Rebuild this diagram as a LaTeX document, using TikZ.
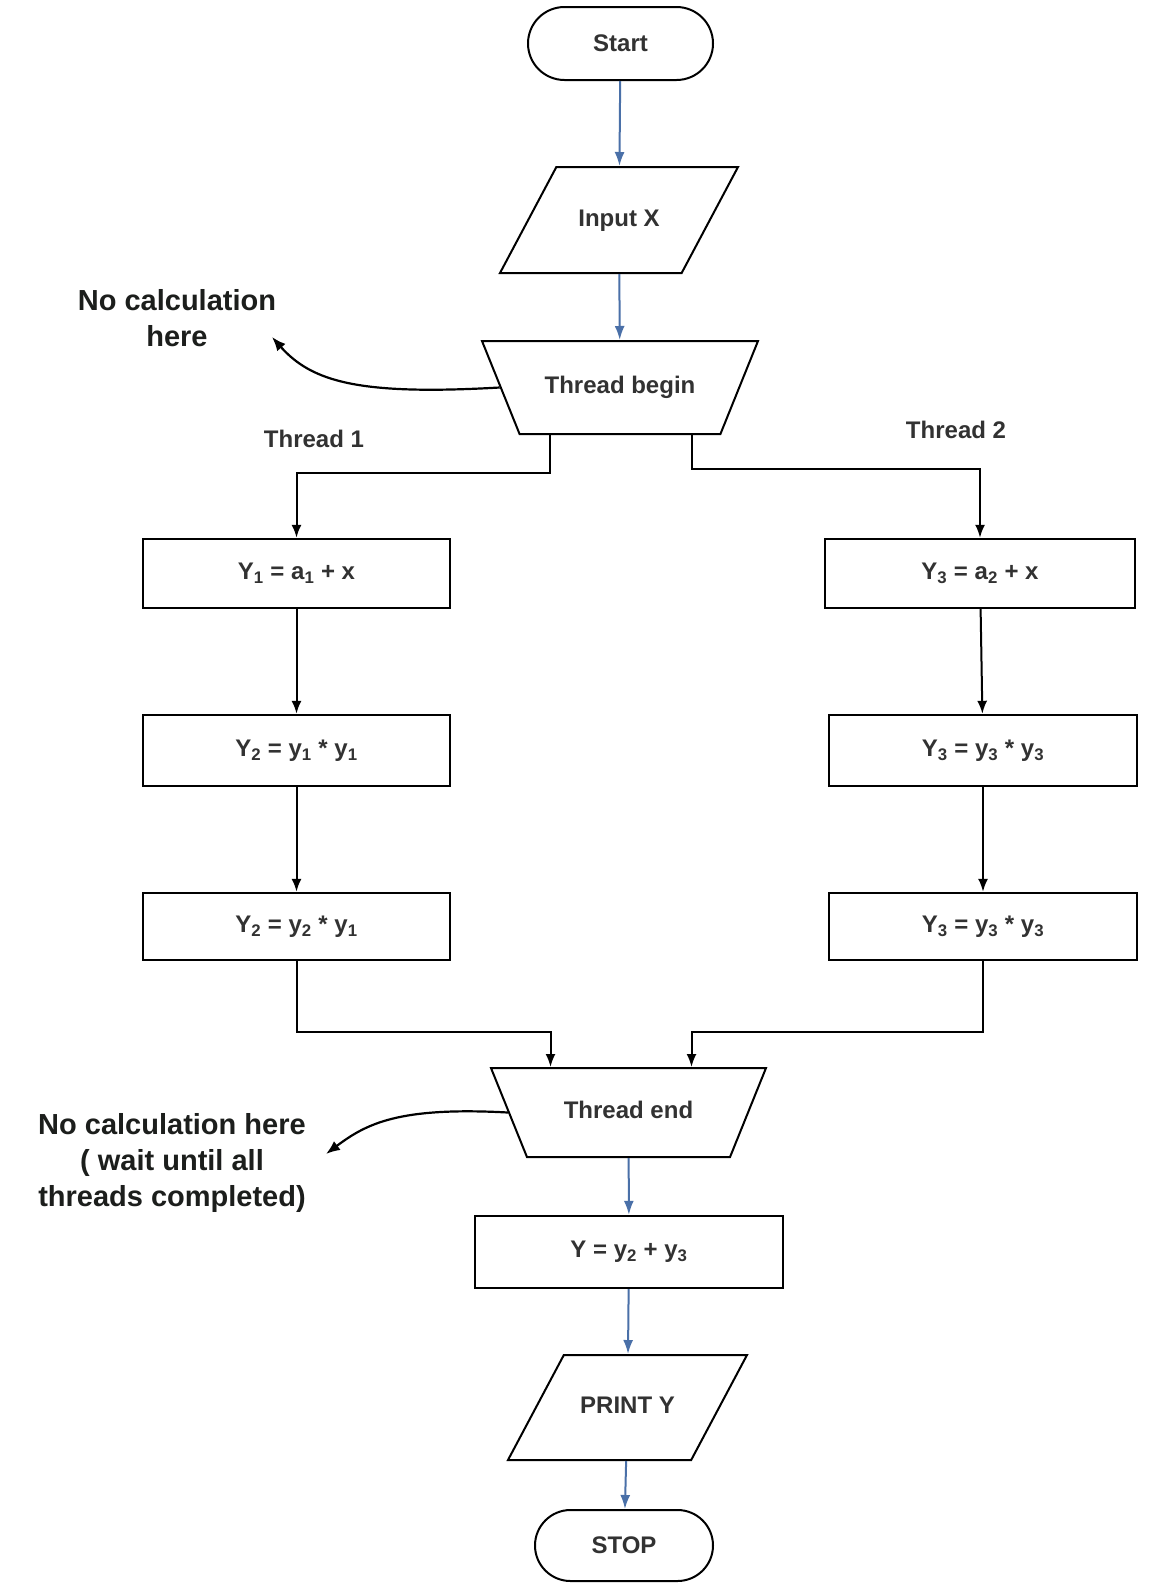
\documentclass[tikz,border=0pt]{standalone}
\usepackage{fontspec}
\setmainfont{Liberation Sans}
\usetikzlibrary{shapes.geometric,shapes.misc,arrows.meta,calc}
\definecolor{flowblue}{RGB}{74,112,168}
\definecolor{labelgray}{RGB}{50,50,50}
\definecolor{notegray}{RGB}{28,30,28}
\begin{document}
\begin{tikzpicture}[x=1pt,y=-1pt,
  every node/.style={font=\fontsize{24}{28}\selectfont\bfseries, text=labelgray, inner sep=0pt},
  terminal/.style={draw=black, line width=2pt, rounded rectangle},
  slanted/.style={draw=black, line width=2pt, trapezium, trapezium stretches body,
    text height=17pt, text depth=5pt, inner xsep=2pt, inner ysep=#1},
  iobox/.style={slanted=#1, trapezium left angle=62, trapezium right angle=118},
  threadbox/.style={slanted=#1, trapezium left angle=112, trapezium right angle=112},
  procbox/.style={draw=black, line width=2.4pt, rectangle},
  note/.style={font=\fontsize{29}{36}\selectfont\bfseries, text=notegray, align=center},
  flowarrow/.style={draw=flowblue, line width=2pt, -{Latex[length=14pt,width=10pt]}},
  thrarrow/.style={draw=black, line width=2pt, -{Latex[length=13pt,width=10pt]}},
  notearrow/.style={draw=black, line width=2.2pt, -{Latex[length=14pt,width=11pt]}}
]
\useasboundingbox (0,0) rectangle (1156,1588);
\fill[white] (0,0) rectangle (1156,1588);

% main column
\node[terminal, minimum width=185pt, minimum height=73pt] (start) at (620.5,43.5) {Start};
\node[iobox=42pt, minimum width=238pt] (input) at (619,220) {Input X};
\node[threadbox=35.5pt, minimum width=276pt] (tbegin) at (620,387.5) {Thread begin};

% thread 1
\node[procbox, minimum width=307pt, minimum height=69pt] (l1) at (296.5,573.5) {Y\textsubscript{1} = a\textsubscript{1} + x};
\node[procbox, minimum width=307pt, minimum height=71pt] (l2) at (296.5,750.5) {Y\textsubscript{2} = y\textsubscript{1} * y\textsubscript{1}};
\node[procbox, minimum width=307pt, minimum height=67pt] (l3) at (296.5,926.5) {Y\textsubscript{2} = y\textsubscript{2} * y\textsubscript{1}};

% thread 2
\node[procbox, minimum width=310pt, minimum height=69pt] (r1) at (980,573.5) {Y\textsubscript{3} = a\textsubscript{2} + x};
\node[procbox, minimum width=308pt, minimum height=71pt] (r2) at (983,750.5) {Y\textsubscript{3} = y\textsubscript{3} * y\textsubscript{3}};
\node[procbox, minimum width=308pt, minimum height=67pt] (r3) at (983,926.5) {Y\textsubscript{3} = y\textsubscript{3} * y\textsubscript{3}};

\node (t1label) at (314,439) {Thread 1};
\node (t2label) at (956,430) {Thread 2};

% join and output
\node[threadbox=33.5pt, minimum width=275pt] (tend) at (628.5,1112.5) {Thread end};
\node[procbox, minimum width=308pt, minimum height=72pt] (ybox) at (629,1252) {Y = y\textsubscript{2} + y\textsubscript{3}};
\node[iobox=41.5pt, minimum width=239pt] (print) at (627.5,1407.5) {PRINT Y};
\node[terminal, minimum width=178pt, minimum height=71pt] (stop) at (624,1545.5) {STOP};

% notes
\node[note] (note1) at (177,318) {No calculation\\here};
\node[note] (note2) at (172,1163) {No calculation here\\( wait until all\\threads completed)};
\coordinate (n1tip) at (272,337);
\coordinate (n2tip) at (326,1154);

% main flow
\draw[flowarrow] (start) -- (input);
\draw[flowarrow] (input) -- (tbegin);
\draw[flowarrow] (tend) -- (ybox);
\draw[flowarrow] (ybox) -- (print);
\draw[flowarrow] (print) -- (stop);

% fork
\draw[thrarrow] ($(tbegin.south)+(-70,0)$) -- ++(0,38) -| (l1.north);
\draw[thrarrow] ($(tbegin.south)+(72,0)$) -- ++(0,34) -| (r1.north);
\draw[thrarrow] (l1) -- (l2);
\draw[thrarrow] (l2) -- (l3);
\draw[thrarrow] (r1) -- (r2);
\draw[thrarrow] (r2) -- (r3);

% join
\draw[thrarrow] (l3.south) |- ($(tend.north)+(-78,-35)$) -- ($(tend.north)+(-78,0)$);
\draw[thrarrow] (r3.south) |- ($(tend.north)+(63,-35)$) -- ($(tend.north)+(63,0)$);

% note pointers
\draw[notearrow] (tbegin.west) .. controls +(-140,8) and +(40,45) .. (n1tip);
\draw[notearrow] (tend.west) .. controls +(-110,-6) and +(40,-30) .. (n2tip);
\end{tikzpicture}
\end{document}
